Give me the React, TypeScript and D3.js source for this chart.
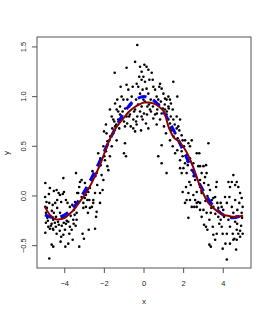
import React from "react";
import * as d3 from "d3";

const points: [number, number][] = [
  [-4.98, 0.13], [-4.75, 0.08], [-4.99, -0.01], [-4.92, -0.06], [-4.98, -0.11], [-4.78, -0.07],
  [-4.95, -0.17], [-4.88, -0.22], [-4.95, -0.27], [-4.83, -0.31], [-4.98, -0.37], [-4.75, -0.33],
  [-4.66, -0.28], [-4.58, -0.24], [-4.71, -0.21], [-4.55, -0.17], [-4.61, -0.09], [-4.48, -0.07],
  [-4.38, -0.04], [-4.31, 0.03], [-4.41, 0.06], [-4.24, 0.01], [-4.18, -0.06], [-4.38, -0.12],
  [-4.24, -0.17], [-4.44, -0.21], [-4.34, -0.26], [-4.58, -0.34], [-4.41, -0.38], [-4.66, -0.49],
  [-4.58, -0.51], [-4.78, -0.63], [-4.18, -0.41], [-4.21, -0.46], [-4.07, -0.39], [-3.99, -0.34],
  [-3.94, -0.28], [-4.11, -0.22], [-3.97, -0.21], [-3.82, -0.26], [-3.74, -0.31], [-3.77, -0.38],
  [-3.65, -0.34], [-3.57, -0.24], [-3.5, -0.19], [-3.4, -0.24], [-3.6, -0.44], [-3.82, -0.48],
  [-3.97, -0.51], [-4.07, 0.18], [-4.04, 0.04], [-3.94, -0.04], [-3.86, -0.07], [-3.74, -0.11],
  [-3.62, -0.09], [-3.54, -0.14], [-3.4, -0.17], [-3.48, -0.06], [-3.37, 0.03], [-3.27, 0.09],
  [-3.23, 0.14], [-3.43, 0.23], [-3.32, 0.03], [-3.15, -0.01], [-3.06, -0.12], [-3.1, -0.38],
  [-3.27, -0.51], [-3.03, -0.43], [-3.06, -0.07], [-2.93, 0.01], [-2.83, -0.17], [-2.79, -0.34],
  [-2.9, 0.06], [-2.98, 0.13], [-2.99, -0.02], [-2.93, -0.11], [-2.86, -0.04], [-2.73, -0.12],
  [-2.63, -0.11], [-2.56, -0.04], [-2.81, 0.04], [-3.15, 0.16],
  [-4.9, -0.2], [-4.85, -0.25], [-4.7, -0.3], [-4.6, -0.33], [-4.5, -0.27], [-4.45, -0.31],
  [-4.3, -0.29], [-4.25, -0.35], [-4.15, -0.3], [-4.05, -0.27], [-3.9, -0.25], [-3.85, -0.19],
  [-3.7, -0.2], [-3.55, -0.28], [-3.45, -0.3], [-4.65, -0.15], [-4.9, -0.12], [-4.8, 0.02],
  [-4.55, 0.05], [-4.1, 0.02],
  [-2.73, 0.08], [-2.64, 0.16], [-2.76, -0.04], [-2.56, -0.07], [-2.47, 0.03], [-2.36, 0.11],
  [-2.39, 0.23], [-2.26, 0.3], [-2.31, 0.43], [-2.19, 0.31], [-2.14, 0.21], [-2.05, 0.16],
  [-2.09, 0.06], [-2.22, -0.07], [-2.39, -0.16], [-2.42, -0.21], [-2.47, -0.33], [-2.22, 0.03],
  [-1.97, 0.36], [-2.05, 0.5], [-1.92, 0.45], [-1.85, 0.3], [-1.8, 0.26], [-1.72, 0.4],
  [-1.75, 0.56], [-1.63, 0.5], [-1.55, 0.63], [-1.89, 0.63], [-2.02, 0.65], [-1.92, 0.72],
  [-1.72, 0.87], [-1.63, 0.8], [-1.55, 0.77], [-1.46, 0.93], [-1.38, 0.87], [-1.46, 0.7],
  [-1.38, 0.56], [-1.3, 0.77], [-1.35, 0.97], [-1.21, 0.9], [-1.21, 0.82], [-1.13, 1.0],
  [-1.18, 1.1], [-1.04, 0.97], [-1.08, 0.85], [-1.01, 0.75], [-0.96, 0.7], [-0.96, 0.53],
  [-1.01, 0.43], [-0.91, 0.4], [-0.88, 0.8], [-0.84, 0.97], [-0.79, 1.07], [-0.88, 1.12],
  [-0.74, 0.9], [-0.71, 0.82], [-0.62, 1.0], [-0.57, 1.1], [-0.67, 0.7], [-0.54, 0.77],
  [-0.54, 0.68], [-0.45, 0.87], [-0.45, 0.65], [-0.37, 0.72], [-0.4, 0.97], [-0.34, 0.8],
  [-0.29, 1.1], [-0.24, 1.2], [-0.2, 1.03], [-0.12, 0.9], [-0.07, 0.77], [-0.15, 0.66],
  [-0.03, 0.97], [-0.88, 1.29], [-1.48, 1.24], [-0.45, 1.35], [-0.37, 1.13], [-0.12, 1.17],
  [-1.6, 0.68], [-1.5, 0.75], [-1.4, 0.72], [-1.3, 0.85], [-1.25, 0.68], [-1.1, 0.78],
  [-0.95, 0.88], [-0.85, 0.73], [-0.75, 0.8], [-0.65, 0.92], [-0.5, 0.85], [-0.4, 0.75],
  [-0.3, 0.92], [-0.2, 0.85], [-1.7, 0.6], [-1.85, 0.55], [-2.0, 0.4], [-2.2, 0.38],
  [-2.45, 0.2], [-2.6, 0.25],
  [-0.34, 1.52], [-0.2, 1.3], [-0.12, 1.25], [0.02, 1.32], [0.13, 1.3], [0.22, 1.27],
  [-0.03, 1.2], [0.05, 1.15], [0.27, 1.17], [0.39, 1.24], [0.44, 1.17], [0.47, 1.1],
  [0.13, 1.08], [0.22, 1.03], [0.34, 0.97], [-0.07, 1.07], [0.17, 0.9], [0.3, 0.87],
  [0.0, 0.83], [-0.12, 0.8], [0.1, 0.73], [0.22, 0.68], [0.56, 1.07], [0.64, 1.0],
  [0.72, 0.97], [0.77, 1.1], [0.89, 1.08], [0.81, 1.13], [0.98, 1.03], [1.06, 0.98],
  [1.14, 0.97], [1.23, 1.0], [1.31, 0.97], [1.36, 0.93], [1.48, 1.15], [1.45, 0.87],
  [1.23, 0.9], [1.06, 0.87], [0.89, 0.83], [0.67, 0.87], [0.56, 0.82], [0.47, 0.78],
  [0.64, 0.72], [0.81, 0.77], [0.72, 0.4], [0.89, 0.51], [1.01, 0.7], [1.11, 0.63],
  [1.23, 0.77], [1.31, 0.73], [1.14, 0.82], [1.4, 0.66], [1.48, 0.6], [1.57, 0.63],
  [1.65, 0.68], [1.68, 1.0], [1.31, 0.56], [0.89, 0.33], [1.45, 0.5], [1.14, 0.23],
  [1.65, 0.8], [1.82, 0.77], [1.73, 0.7], [1.9, 0.61], [1.82, 0.53], [1.68, 0.46],
  [1.57, 0.43], [1.95, 0.56], [2.02, 0.5], [1.95, 0.4], [1.82, 0.36], [1.9, 0.23],
  [1.99, 0.28], [2.07, 0.33], [2.15, 0.41], [2.21, 0.31], [2.32, 0.38], [2.41, 0.26],
  [2.29, 0.14], [2.36, 0.11], [2.15, 0.23], [2.49, 0.33], [2.41, 0.56], [2.66, 0.43],
  [2.79, 0.43], [2.58, 0.16], [2.66, 0.04], [2.49, 0.01], [2.32, -0.04], [2.24, 0.03],
  [2.41, -0.11], [2.54, -0.11], [2.66, -0.07], [2.74, -0.06], [2.83, 0.09], [2.91, 0.23],
  [3.0, 0.3], [3.08, 0.19], [2.83, 0.3], [3.03, 0.13], [3.16, 0.23], [3.13, 0.31],
  [3.25, 0.53], [3.25, 0.11], [3.33, 0.06], [3.42, -0.04], [3.5, -0.02], [3.59, -0.01],
  [3.5, -0.11], [3.37, -0.17], [3.3, -0.24], [3.16, -0.17], [3.0, -0.14], [2.91, -0.21],
  [2.83, -0.14], [3.03, -0.29], [3.13, -0.31], [3.2, -0.34], [3.3, -0.49], [3.37, -0.51],
  [3.67, 0.14], [3.64, 0.09], [3.7, -0.07], [3.75, -0.12], [3.84, -0.17], [3.92, -0.11],
  [3.87, -0.24], [3.92, -0.31], [3.97, -0.38], [4.04, -0.21], [4.18, -0.07], [4.09, -0.01],
  [4.26, 0.14], [4.34, 0.09], [4.31, -0.01], [4.43, -0.11], [4.51, -0.17], [4.6, -0.04],
  [4.68, 0.14], [4.76, 0.09], [4.85, 0.03], [4.93, -0.02], [4.81, -0.07], [4.71, -0.14],
  [4.65, -0.21], [4.6, -0.26], [4.68, -0.34], [4.76, -0.38], [4.85, -0.41], [4.68, -0.44],
  [4.56, -0.43], [4.48, -0.38], [4.34, -0.31], [4.26, -0.24], [4.18, -0.38], [4.34, -0.48],
  [4.51, -0.44], [4.65, -0.54], [4.51, 0.21], [4.43, 0.14], [4.6, 0.11], [4.93, -0.17],
  [4.98, -0.11], [4.98, -0.38], [4.18, -0.64], [4.11, -0.48], [3.97, -0.53], [3.59, -0.44],
  [3.75, -0.21], [3.67, -0.38], [3.47, -0.31], [3.5, -0.39], [3.87, -0.07], [2.24, -0.22],
  [2.15, -0.04], [2.07, -0.07], [1.95, 0.04], [2.12, 0.09], [1.82, 0.28], [2.24, 0.53],
  [2.32, 0.5], [2.74, 0.3], [2.83, 0.16], [2.91, 0.03], [2.58, -0.04], [2.66, -0.11],
  [2.83, -0.07], [1.9, 0.45], [2.07, 0.56], [1.78, 0.66], [1.48, 0.77], [1.31, 0.68],
  [0.05, 0.95], [0.15, 0.82], [0.25, 0.92], [0.35, 0.85], [0.45, 0.9], [0.55, 0.95],
  [0.65, 0.83], [0.75, 0.92], [0.85, 0.95], [0.95, 0.88], [1.05, 0.92], [1.15, 0.85],
  [1.25, 0.88], [1.35, 0.8], [1.55, 0.72], [1.7, 0.58], [2.2, 0.35], [2.5, 0.2],
  [2.9, 0.05], [3.1, -0.05], [3.2, 0.0], [3.4, -0.12], [3.6, -0.18], [3.8, -0.28],
  [4.0, -0.14], [4.4, -0.22], [4.7, -0.28], [4.9, -0.3], [4.95, -0.22], [4.85, -0.35],
];

// true curve (blue dashed)
const trueX = [-5, -4.5, -4, -3.5, -3, -2.5, -2, -1.5, -1, -0.5, 0, 0.5, 1, 1.5, 2, 2.5, 3, 3.5, 4, 4.5, 5];
const trueY = [-0.19, -0.22, -0.19, -0.1, 0.05, 0.24, 0.45, 0.66, 0.84, 0.96, 1.0, 0.96, 0.84, 0.66, 0.45, 0.24, 0.05, -0.1, -0.19, -0.22, -0.19];

// smooth fit (dark red)
const fitX = [-5, -4.75, -4.5, -4.25, -4, -3.75, -3.5, -3.25, -3, -2.75, -2.5, -2.25, -2, -1.75, -1.5, -1.25, -1, -0.75, -0.5, -0.25, 0,
  0.25, 0.5, 0.75, 1, 1.25, 1.5, 1.75, 2, 2.25, 2.5, 2.75, 3, 3.25, 3.5, 3.75, 4, 4.25, 4.5, 4.75, 5];
const fitY = [-0.11, -0.19, -0.23, -0.235, -0.22, -0.18, -0.13, -0.06, 0.01, 0.09, 0.19, 0.3, 0.43, 0.56, 0.66, 0.73, 0.79, 0.85, 0.89, 0.92, 0.94,
  0.94, 0.93, 0.9, 0.85, 0.69, 0.59, 0.55, 0.49, 0.4, 0.28, 0.14, 0.02, -0.07, -0.12, -0.16, -0.19, -0.2, -0.21, -0.205, -0.2];

const xTicks = [-4, -2, 0, 2, 4];
const yTicks = [-0.5, 0, 0.5, 1, 1.5];
const xTickLabels = ["\u22124", "\u22122", "0", "2", "4"];
const yTickLabels = ["\u22120.5", "0.0", "0.5", "1.0", "1.5"];

export default function App() {
  const width = 270;
  const height = 315;
  const left = 37, right = 251, top = 37, bottom = 268;

  const x = d3.scaleLinear().domain([-5.4, 5.4]).range([left, right]);
  const y = d3.scaleLinear().domain([-0.725, 1.6]).range([bottom, top]);

  const truePath = d3.line<number>()
    .curve(d3.curveCatmullRom)
    .x((_, i) => x(trueX[i]))
    .y((d) => y(d))(trueY) || "";
  const fitPath = d3.line<number>()
    .curve(d3.curveCatmullRom)
    .x((_, i) => x(fitX[i]))
    .y((d) => y(d))(fitY) || "";

  const font = "'Liberation Sans', Arial, sans-serif";

  return (
    <svg width={width} height={height} style={{ position: "absolute", left: 0, top: 0, background: "#fff" }}>
      {/* points */}
      <g fill="#000">
        {points.map((p, i) => (
          <circle key={i} cx={x(p[0])} cy={y(p[1])} r={1.3} />
        ))}
      </g>

      {/* true curve and fit */}
      <path d={truePath} fill="none" stroke="#0000ff" strokeWidth={3} strokeDasharray="9 7" />
      <path d={fitPath} fill="none" stroke="#8b0000" strokeWidth={2} />

      {/* box */}
      <rect x={left} y={top} width={right - left} height={bottom - top} fill="none" stroke="#555" strokeWidth={1} />

      {/* x axis */}
      <g stroke="#555">
        {xTicks.map((t) => (
          <line key={t} x1={x(t)} x2={x(t)} y1={bottom} y2={bottom + 5} />
        ))}
      </g>
      <g fontFamily={font} fontSize={7.5} fill="#222" textAnchor="middle">
        {xTicks.map((t, i) => (
          <text key={t} x={x(t)} y={285.5}>{xTickLabels[i]}</text>
        ))}
      </g>

      {/* y axis */}
      <g stroke="#555">
        {yTicks.map((t) => (
          <line key={t} x1={left} x2={left - 5} y1={y(t)} y2={y(t)} />
        ))}
      </g>
      <g fontFamily={font} fontSize={7.5} fill="#222" textAnchor="middle">
        {yTicks.map((t, i) => (
          <text key={t} transform={`translate(26,${y(t)}) rotate(-90)`}>{yTickLabels[i]}</text>
        ))}
      </g>

      {/* axis titles */}
      <text x={144} y={304} fontFamily={font} fontSize={8} fill="#222" textAnchor="middle">x</text>
      <text transform="translate(9,153) rotate(-90)" fontFamily={font} fontSize={8} fill="#222" textAnchor="middle">y</text>
    </svg>
  );
}
